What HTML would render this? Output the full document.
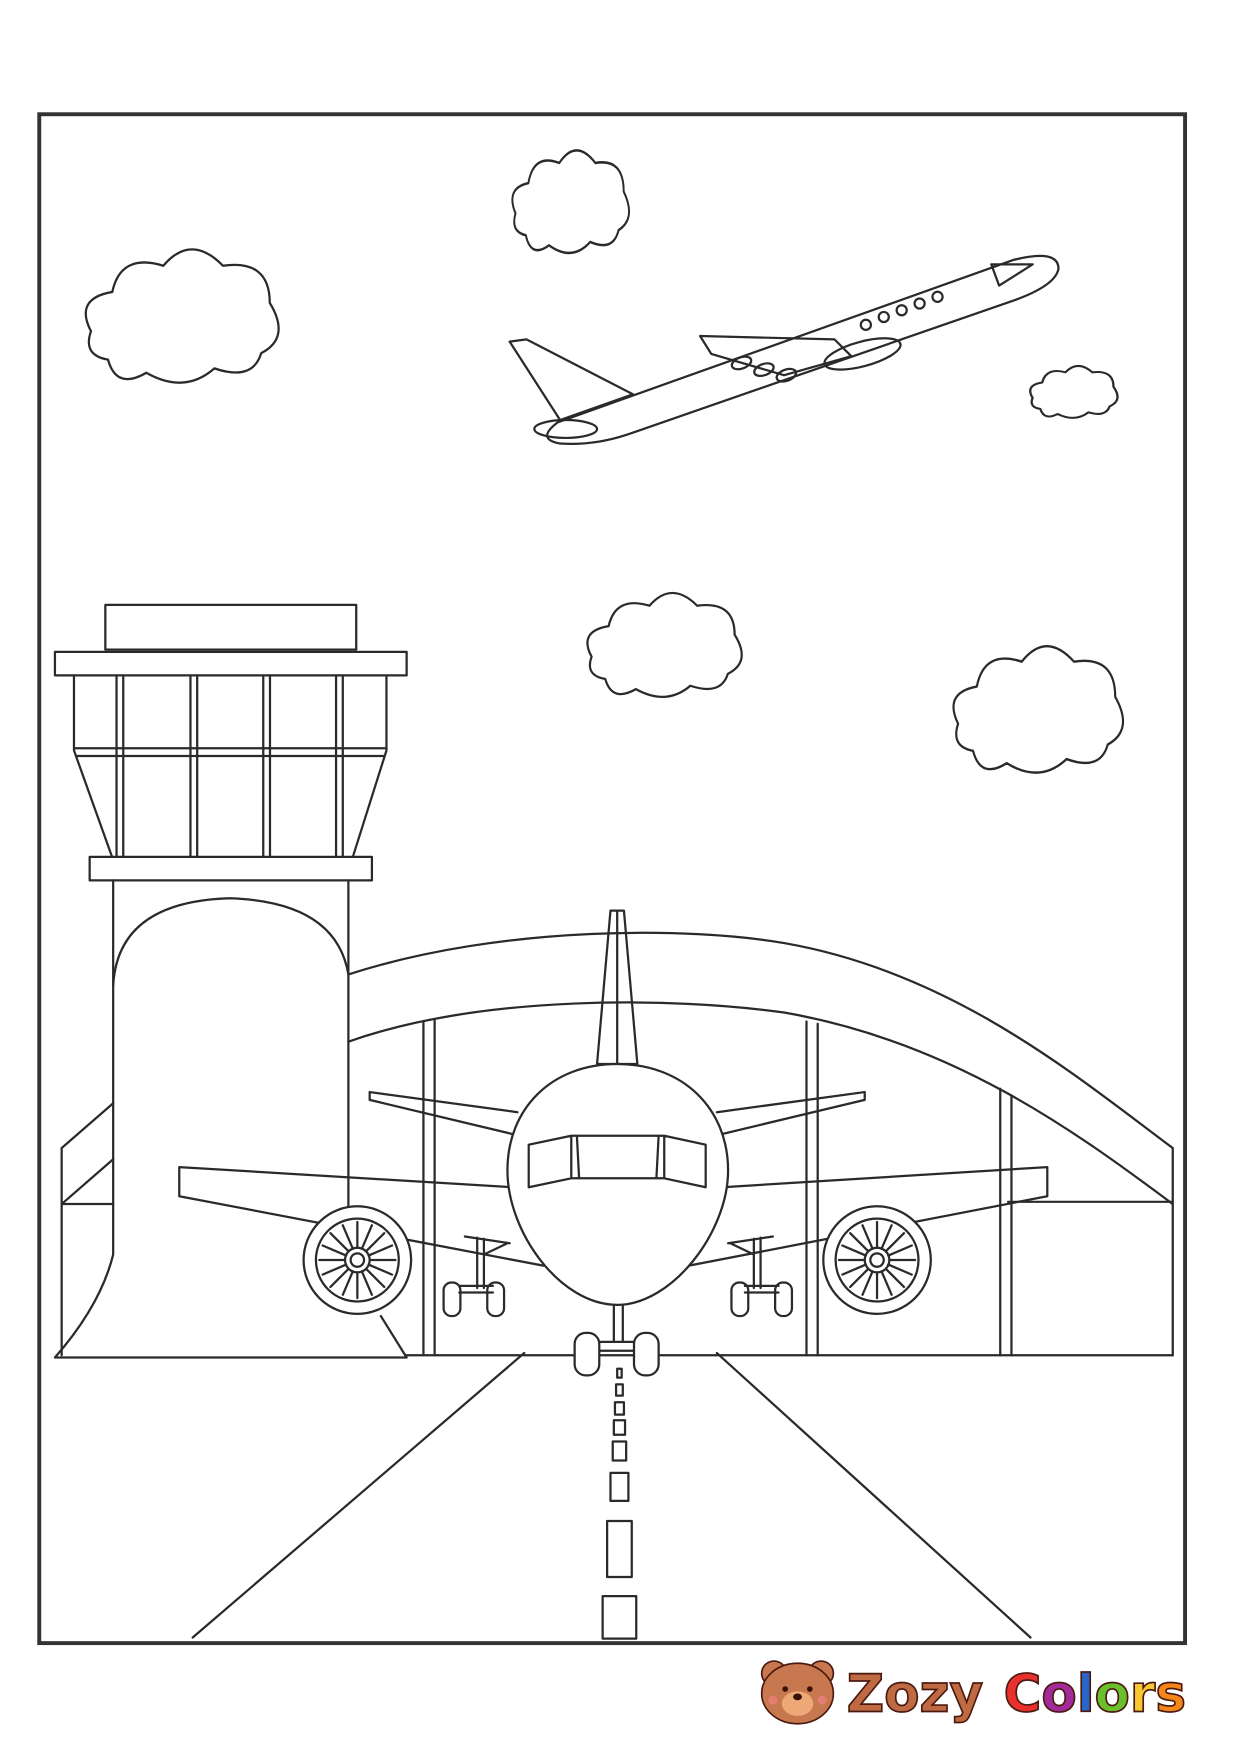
<!DOCTYPE html>
<html><head><meta charset="utf-8"><style>
html,body{margin:0;padding:0;background:#fff;}
svg{display:block}
</style></head><body>
<svg width="1240" height="1754" viewBox="0 0 1107 1566" xmlns="http://www.w3.org/2000/svg">
<defs>
<path id="cl" d="M8,45 Q0,30 18,27 Q22,9 42,15 Q55,0 70,15 Q92,12 92,32 Q102,48 88,55 Q84,68 66,62 Q52,74 34,64 Q20,72 16,58 Q4,56 8,45 Z"/>
</defs>
<rect width="1107" height="1566" fill="#fff"/>
<rect x="35" y="102" width="1023" height="1365" fill="none" stroke="#333" stroke-width="3.5"/>
<g fill="none" stroke="#2a2a2a" stroke-width="2" stroke-linejoin="round" stroke-linecap="round">
<!-- clouds -->
<use href="#cl" transform="translate(66,208) scale(1.9,1.95)" stroke-width="1.05"/>
<use href="#cl" transform="translate(451,123) scale(1.15,1.5)" stroke-width="1.5"/>
<use href="#cl" transform="translate(915,321) scale(0.86,0.76)" stroke-width="2.4"/>
<use href="#cl" transform="translate(516,518) scale(1.52,1.52)" stroke-width="1.3"/>
<use href="#cl" transform="translate(842,563) scale(1.67,1.85)" stroke-width="1.15"/>
<!-- flying plane -->
<path d="M455,305 L470,303 L565,352 L500,375 Z"/>
<path d="M498,377 L905,232 Q945,222 945,240 Q942,256 900,270 L560,388 Q530,398 500,396 Q478,392 498,377 Z"/>
<ellipse cx="505" cy="383" rx="28" ry="8"/>
<path d="M625,300 L745,303 L760,318 L700,335 L635,316 Z"/>
<ellipse cx="770" cy="316" rx="35" ry="11" transform="rotate(-15 770 316)"/>
<ellipse cx="662" cy="324" rx="9" ry="5" transform="rotate(-20 662 324)"/>
<ellipse cx="682" cy="330" rx="9" ry="5" transform="rotate(-20 682 330)"/>
<ellipse cx="702" cy="335" rx="9" ry="5" transform="rotate(-20 702 335)"/>
<circle cx="773" cy="290" r="4.5"/><circle cx="789" cy="283" r="4.5"/><circle cx="805" cy="277" r="4.5"/><circle cx="821" cy="271" r="4.5"/><circle cx="837" cy="265" r="4.5"/>
<path d="M885,236 L922,236 L892,255 Z"/>
<!-- tower -->
<rect x="94" y="540" width="224" height="40"/>
<rect x="49" y="582" width="314" height="21"/>
<path d="M66,603 L66,670 L100,765 M345,603 L345,670 L315,765"/>
<path d="M66,668 L345,668 M68,675 L343,675"/>
<path d="M104,603 V765 M110,603 V765 M170,603 V765 M176,603 V765 M235,603 V765 M241,603 V765 M300,603 V765 M306,603 V765"/>
<rect x="80" y="765" width="252" height="21"/>
<path d="M101,786 V1120 Q90,1165 49,1212 H363 L340,1175 M311,786 V1080"/>
<path d="M101,880 Q105,805 205,802 Q300,805 311,870"/>
<!-- hangar -->
<path d="M311,870 C450,825 620,828 700,842 C850,868 960,960 1047,1025 V1210"/>
<path d="M311,930 C430,888 600,890 700,904 C850,930 960,1010 1047,1075"/>
<path d="M55,1025 L101,985 M55,1025 V1210 M55,1075 L101,1035 M55,1075 H101"/>
<path d="M900,1073 H1047"/>
<path d="M378,912 V1210 M388,910 V1210 M720,912 V1210 M730,914 V1210 M893,972 V1210 M903,978 V1210"/>
<path d="M363,1210 H1047"/>
<!-- runway -->
<path d="M468,1208 L172,1462 M640,1208 L920,1462"/>
<path d="M551,1222 h4 v8 h-4 Z M550,1236 h6 v10 h-6 Z M549,1252 h8 v11 h-8 Z M548,1268 h10 v13 h-10 Z M547,1287 h12 v17 h-12 Z M545,1315 h16 v25 h-16 Z M542,1358 h22 v50 h-22 Z M538,1425 h30 v38 h-30 Z"/>
<!-- front plane tail -->
<path d="M545,813 L557,813 L569,950 L533,950 Z M551,813 V950"/>
<path d="M462,993 L330,975 L330,982 L468,1015 M640,993 L772,975 L772,982 L634,1015"/>
<!-- wings -->
<path d="M458,1060 L160,1042 V1068 L485,1130"/>
<path d="M645,1060 L935,1042 V1068 L615,1130"/>
<!-- body -->
<path fill="#fff" d="M551,950 C610,950 650,990 650,1045 C650,1100 600,1165 551,1165 C500,1165 453,1100 453,1045 C453,990 492,950 551,950 Z"/>
<path d="M472,1022 L510,1014 L593,1014 L630,1022 L630,1060 L593,1052 L510,1052 L472,1060 Z M510,1014 V1052 M593,1014 V1052 M515,1014 L517,1052 M588,1014 L586,1052"/>
<!-- engines -->
<g>
<circle cx="319" cy="1125" r="48" fill="#fff"/>
<circle cx="319" cy="1125" r="37"/>
<circle cx="319" cy="1125" r="11"/>
<circle cx="319" cy="1125" r="6"/>
<path d="M319,1114 V1091 M319,1136 V1159 M308,1125 H285 M330,1125 H353 M327,1117 L343,1101 M311,1133 L295,1149 M311,1117 L295,1101 M327,1133 L343,1149 M323,1115 L332,1094 M315,1135 L306,1156 M329,1121 L350,1112 M309,1129 L288,1138 M315,1115 L306,1094 M323,1135 L332,1156 M309,1121 L288,1112 M329,1129 L350,1138"/>
</g>
<g transform="translate(464,0)">
<circle cx="319" cy="1125" r="48" fill="#fff"/>
<circle cx="319" cy="1125" r="37"/>
<circle cx="319" cy="1125" r="11"/>
<circle cx="319" cy="1125" r="6"/>
<path d="M319,1114 V1091 M319,1136 V1159 M308,1125 H285 M330,1125 H353 M327,1117 L343,1101 M311,1133 L295,1149 M311,1117 L295,1101 M327,1133 L343,1149 M323,1115 L332,1094 M315,1135 L306,1156 M329,1121 L350,1112 M309,1129 L288,1138 M315,1115 L306,1094 M323,1135 L332,1156 M309,1121 L288,1112 M329,1129 L350,1138"/>
</g>
<!-- gears -->
<path d="M415,1104 L455,1110 M426,1105 V1150 M432,1106 V1150 M432,1120 L453,1110 M410,1148 H440 M410,1154 H440"/>
<rect x="396" y="1145" width="15" height="30" rx="7"/><rect x="435" y="1145" width="15" height="30" rx="7"/>
<path d="M690,1104 L650,1110 M679,1105 V1150 M673,1106 V1150 M673,1120 L652,1110 M665,1148 H695 M665,1154 H695"/>
<rect x="653" y="1145" width="15" height="30" rx="7"/><rect x="692" y="1145" width="15" height="30" rx="7"/>
<path d="M548,1165 V1198 M556,1165 V1198 M535,1198 H566 M535,1206 H566"/>
<rect x="513" y="1190" width="22" height="38" rx="10" fill="#fff"/><rect x="566" y="1190" width="22" height="38" rx="10" fill="#fff"/>
</g>
<!-- logo -->
<g>
<circle cx="691" cy="1494" r="11" fill="#c8784e" stroke="#4a1a10" stroke-width="1.5"/>
<circle cx="733" cy="1494" r="11" fill="#c8784e" stroke="#4a1a10" stroke-width="1.5"/>
<ellipse cx="712" cy="1512" rx="32" ry="27" fill="#c8784e" stroke="#4a1a10" stroke-width="1.5"/>
<ellipse cx="712" cy="1521" rx="14" ry="11" fill="#eea878"/>
<circle cx="701" cy="1508" r="2.5" fill="#3a1008"/><circle cx="723" cy="1508" r="2.5" fill="#3a1008"/>
<ellipse cx="712" cy="1515" rx="4" ry="3" fill="#3a1008"/>
<circle cx="690" cy="1518" r="4" fill="#f08080" opacity=".7"/><circle cx="734" cy="1518" r="4" fill="#f08080" opacity=".7"/>
<text x="756" y="1528" font-family="'DejaVu Sans','Liberation Sans',sans-serif" font-weight="bold" font-size="46" fill="#c06a44" stroke="#4a1a10" stroke-width="1.5">Zozy</text>
<text x="896" y="1528" font-family="'DejaVu Sans','Liberation Sans',sans-serif" font-weight="bold" font-size="46" stroke="#4a1a10" stroke-width="1.5"><tspan fill="#e8302c">C</tspan><tspan fill="#a22a9a">o</tspan><tspan fill="#2a66c8">l</tspan><tspan fill="#6abf2a">o</tspan><tspan fill="#f8c830">r</tspan><tspan fill="#f4861a">s</tspan></text>
</g>
</svg>
</body></html>
